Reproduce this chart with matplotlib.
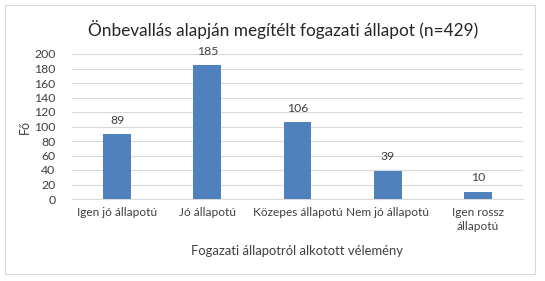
import matplotlib
matplotlib.use("Agg")
import matplotlib.pyplot as plt
from matplotlib.patches import Rectangle

categories = ["Igen jó állapotú", "Jó állapotú", "Közepes állapotú", "Nem jó állapotú", "Igen rossz\nállapotú"]
values = [89, 185, 106, 39, 10]
yticks = [0, 20, 40, 60, 80, 100, 120, 140, 160, 180, 200]

plt.rcParams['font.family'] = ['Lato', 'DejaVu Sans']

W, H = 545, 281
fig = plt.figure(figsize=(W / 100, H / 100), dpi=100)
fig.patch.set_facecolor("white")

# outer chart border
fig.add_artist(Rectangle((5 / W, 1 - 274 / H), 530 / W, 269 / H, transform=fig.transFigure,
                         fill=False, edgecolor="#D9D9D9", linewidth=0.8))

left, right, top, bottom = 72, 523, 54, 199
ax = fig.add_axes([left / W, 1 - bottom / H, (right - left) / W, (bottom - top) / H])

x = range(len(categories))
bars = ax.bar(x, values, width=0.31, color="#4F81BD", zorder=3)
for xi, v in zip(x, values):
    ax.annotate(str(v), (xi, v), xytext=(0, 6), textcoords="offset points",
                ha="center", va="bottom", fontsize=8.8, color="#404040")

ax.set_xlim(-0.5, len(categories) - 0.5)
ax.set_ylim(0, 200)
ax.set_yticks(yticks)
ax.set_xticks(list(x))
ax.set_xticklabels(categories, fontsize=8.6, color="#404040", linespacing=1.3)
ax.tick_params(axis="y", labelsize=8.8, labelcolor="#404040", length=0, pad=12)
ax.tick_params(axis="x", length=0, pad=6)
ax.grid(axis="y", color="#D9D9D9", linewidth=0.8, zorder=0)
for s in ["top", "right", "left"]:
    ax.spines[s].set_visible(False)
ax.spines["bottom"].set_color("#D9D9D9")
ax.spines["bottom"].set_linewidth(0.8)

ax.set_ylabel("Fő", fontsize=9, color="#404040", labelpad=2)
fig.text(297 / W, 1 - 251 / H, "Fogazati állapotról alkotott vélemény", ha="center", va="center",
         fontsize=9.4, color="#404040")
fig.text(283 / W, 1 - 30 / H, "Önbevallás alapján megítélt fogazati állapot (n=429)", ha="center",
         va="center", fontsize=12.4, color="#262626")

fig.savefig("out.png", dpi=100, facecolor="white")
